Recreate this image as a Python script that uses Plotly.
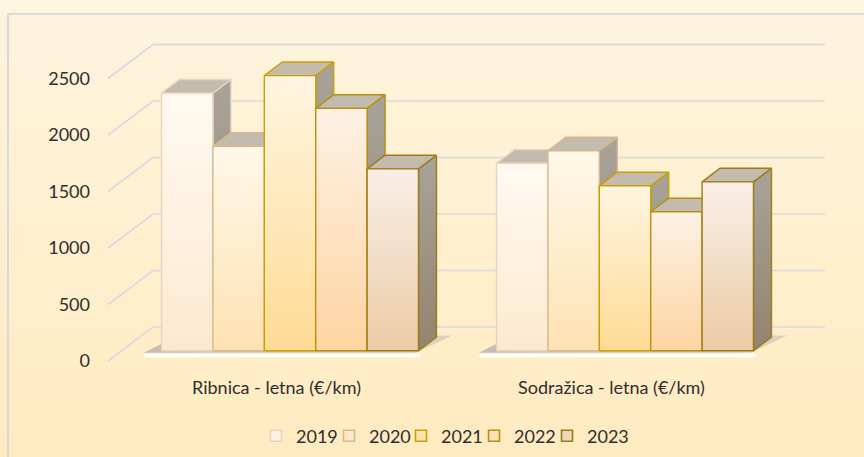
import base64
import struct
import zlib

import plotly.graph_objects as go

# ---- data -------------------------------------------------------------
categories = ["Ribnica - letna (€/km)", "Sodražica - letna (€/km)"]
years = ["2019", "2020", "2021", "2022", "2023"]
v2019 = [2280, 1660]
v2020 = [1810, 1770]
v2021 = [2435, 1460]
v2022 = [2145, 1230]
v2023 = [1610, 1495]
y_ticks = [0, 500, 1000, 1500, 2000, 2500]

series = [v2019, v2020, v2021, v2022, v2023]

# ---- styling ----------------------------------------------------------
front_top = ["#FFFAF1", "#FFF8E9", "#FFF5E0", "#FDF1E4", "#F9EFE6"]
front_bot = ["#FDE9CF", "#FEE2B3", "#FEDB94", "#FDD5A2", "#EBCBA6"]
edge = ["#E9D3BC", "#D9B78A", "#C9A000", "#B88E0C", "#9D7B12"]
legend_fill = ["#FEF1DF", "#FDE8C6", "#FDE3AE", "#FBDFBE", "#EDD6BE"]
top_face = "#C3BBAE"
side_top, side_bot = "#A8A39A", "#94836E"
grid_color = "rgb(216,217,224)"
text_color = "#2E2E2E"
FONT = "Lato"

# oblique 3D projection (x in category units, y in value units)
DX, DY = 0.1343, 301.0      # offset of the full depth
FRONT, BACK = 0.3, 0.7       # depth span of the bars
BAR_W = 0.1534
AXIS_X = -0.503              # front edge of the value axis
WALL_END = 1.637             # right end of the back wall


def proj(x, v, d):
    return x + d * DX, v + d * DY


def poly(points):
    xs, ys = zip(*[proj(*p) for p in points])
    return list(xs) + [xs[0]], list(ys) + [ys[0]]


fig = go.Figure()

# back wall gridlines with their diagonals to the front axis
for v in y_ticks:
    x0, y0 = proj(AXIS_X, v, 0)
    x1, y1 = proj(AXIS_X, v, 1)
    fig.add_trace(go.Scatter(
        x=[x0, x1, WALL_END], y=[y0, y1, y1], mode="lines",
        line=dict(color=grid_color, width=1.6), hoverinfo="skip", showlegend=False))

# floor shadow under each group
for ci in range(len(categories)):
    gl = ci - 2.5 * BAR_W
    gr = ci + 2.5 * BAR_W
    xs, ys = poly([(gl - 0.045, 0, 0.24), (gr, 0, 0.24), (gr + 0.04, 0, 0.75), (gl - 0.01, 0, 0.75)])
    fig.add_trace(go.Scatter(
        x=xs, y=ys, mode="lines", fill="toself", line=dict(width=0),
        fillgradient=dict(type="horizontal",
                          colorscale=[[0, "rgba(150,150,150,0.55)"], [1, "rgba(175,175,175,0.45)"]]),
        hoverinfo="skip", showlegend=False))
    fig.add_trace(go.Scatter(
        x=[gl - 0.01, gr + 0.046], y=[48, 48], mode="lines",
        line=dict(color="white", width=3.5), hoverinfo="skip", showlegend=False))

# bars: side, top and front face of each box, left to right
for ci in range(len(categories)):
    for si, vals in enumerate(series):
        v = vals[ci]
        xl = ci + (si - 2.5) * BAR_W
        xr = xl + BAR_W
        faces = [
            ([(xr, 0, FRONT), (xr, 0, BACK), (xr, v, BACK), (xr, v, FRONT)],
             dict(type="vertical", colorscale=[[0, side_bot], [1, side_top]]), None),
            ([(xl, v, FRONT), (xr, v, FRONT), (xr, v, BACK), (xl, v, BACK)],
             None, top_face),
            ([(xl, 0, FRONT), (xr, 0, FRONT), (xr, v, FRONT), (xl, v, FRONT)],
             dict(type="vertical", colorscale=[[0, front_bot[si]], [1, front_top[si]]]), None),
        ]
        for pts, grad, solid in faces:
            xs, ys = poly(pts)
            kw = dict(fillgradient=grad) if grad else dict(fillcolor=solid)
            fig.add_trace(go.Scatter(
                x=xs, y=ys, mode="lines", fill="toself",
                line=dict(color=edge[si], width=1.4),
                name=years[si], legendgroup=years[si],
                hoverinfo="skip", showlegend=False, **kw))


def gradient_png(top, bottom, h=256):
    raw = b""
    for i in range(h):
        t = i / (h - 1)
        c = bytes(round(a + (b - a) * t) for a, b in zip(top, bottom))
        raw += b"\x00" + c + c
    def chunk(tag, data):
        return (struct.pack(">I", len(data)) + tag + data
                + struct.pack(">I", zlib.crc32(tag + data) & 0xFFFFFFFF))
    png = (b"\x89PNG\r\n\x1a\n"
           + chunk(b"IHDR", struct.pack(">IIBBBBB", 2, h, 8, 2, 0, 0, 0))
           + chunk(b"IDAT", zlib.compress(raw))
           + chunk(b"IEND", b""))
    return "data:image/png;base64," + base64.b64encode(png).decode()


W, H = 864, 457
L, R, T, B = 100, 24, 20, 82
PW, PH = W - L - R, H - T - B

# one legend box per year, laid out in a row under the plot
legend_left_px = [256, 329, 401, 474, 547]
legend_boxes = {}
for si, yr in enumerate(years):
    key = "legend" if si == 0 else f"legend{si + 1}"
    fig.add_trace(go.Scatter(
        x=[None], y=[None], mode="markers", name=yr, legendgroup=yr,
        legend=key,
        marker=dict(symbol="square", size=11, color=legend_fill[si],
                    line=dict(color=edge[si], width=1.6))))
    legend_boxes[key] = dict(
        orientation="h", xanchor="left", yanchor="middle",
        x=(legend_left_px[si] - L) / PW, y=(H - B - 436) / PH,
        itemwidth=30, bgcolor="rgba(0,0,0,0)", font=dict(size=18))

fig.update_layout(
    width=W, height=H, autosize=False,
    margin=dict(l=L, r=R, t=T, b=B, autoexpand=False),
    paper_bgcolor="#FEF0D0", plot_bgcolor="rgba(0,0,0,0)",
    font=dict(family=FONT, size=18, color=text_color),
    xaxis=dict(range=[-0.5269, 1.6821], tickvals=[0, 1], ticktext=categories,
               showgrid=False, zeroline=False, showline=False, ticks="",
               automargin=False, ticklabelstandoff=0, fixedrange=True),
    yaxis=dict(range=[-123.9, 3017.7], tickvals=y_ticks,
               showgrid=False, zeroline=False, showline=False, ticks="",
               automargin=False, ticklabelstandoff=9, fixedrange=True),
    images=[dict(source=gradient_png((254, 244, 223), (255, 235, 192)),
                 xref="paper", yref="paper", x=-L / PW, y=1 + T / PH,
                 sizex=W / PW, sizey=H / PH, xanchor="left", yanchor="top",
                 sizing="stretch", layer="below")],
    shapes=[dict(type="rect", xref="paper", yref="paper",
                 x0=(8 - L) / PW, x1=(880 - L) / PW,
                 y0=(H - B - 480) / PH, y1=(H - B - 14) / PH,
                 line=dict(color="#D9D9D9", width=2), fillcolor="rgba(0,0,0,0)")],
    showlegend=True,
    **legend_boxes,
)

fig.write_html("out.html")
